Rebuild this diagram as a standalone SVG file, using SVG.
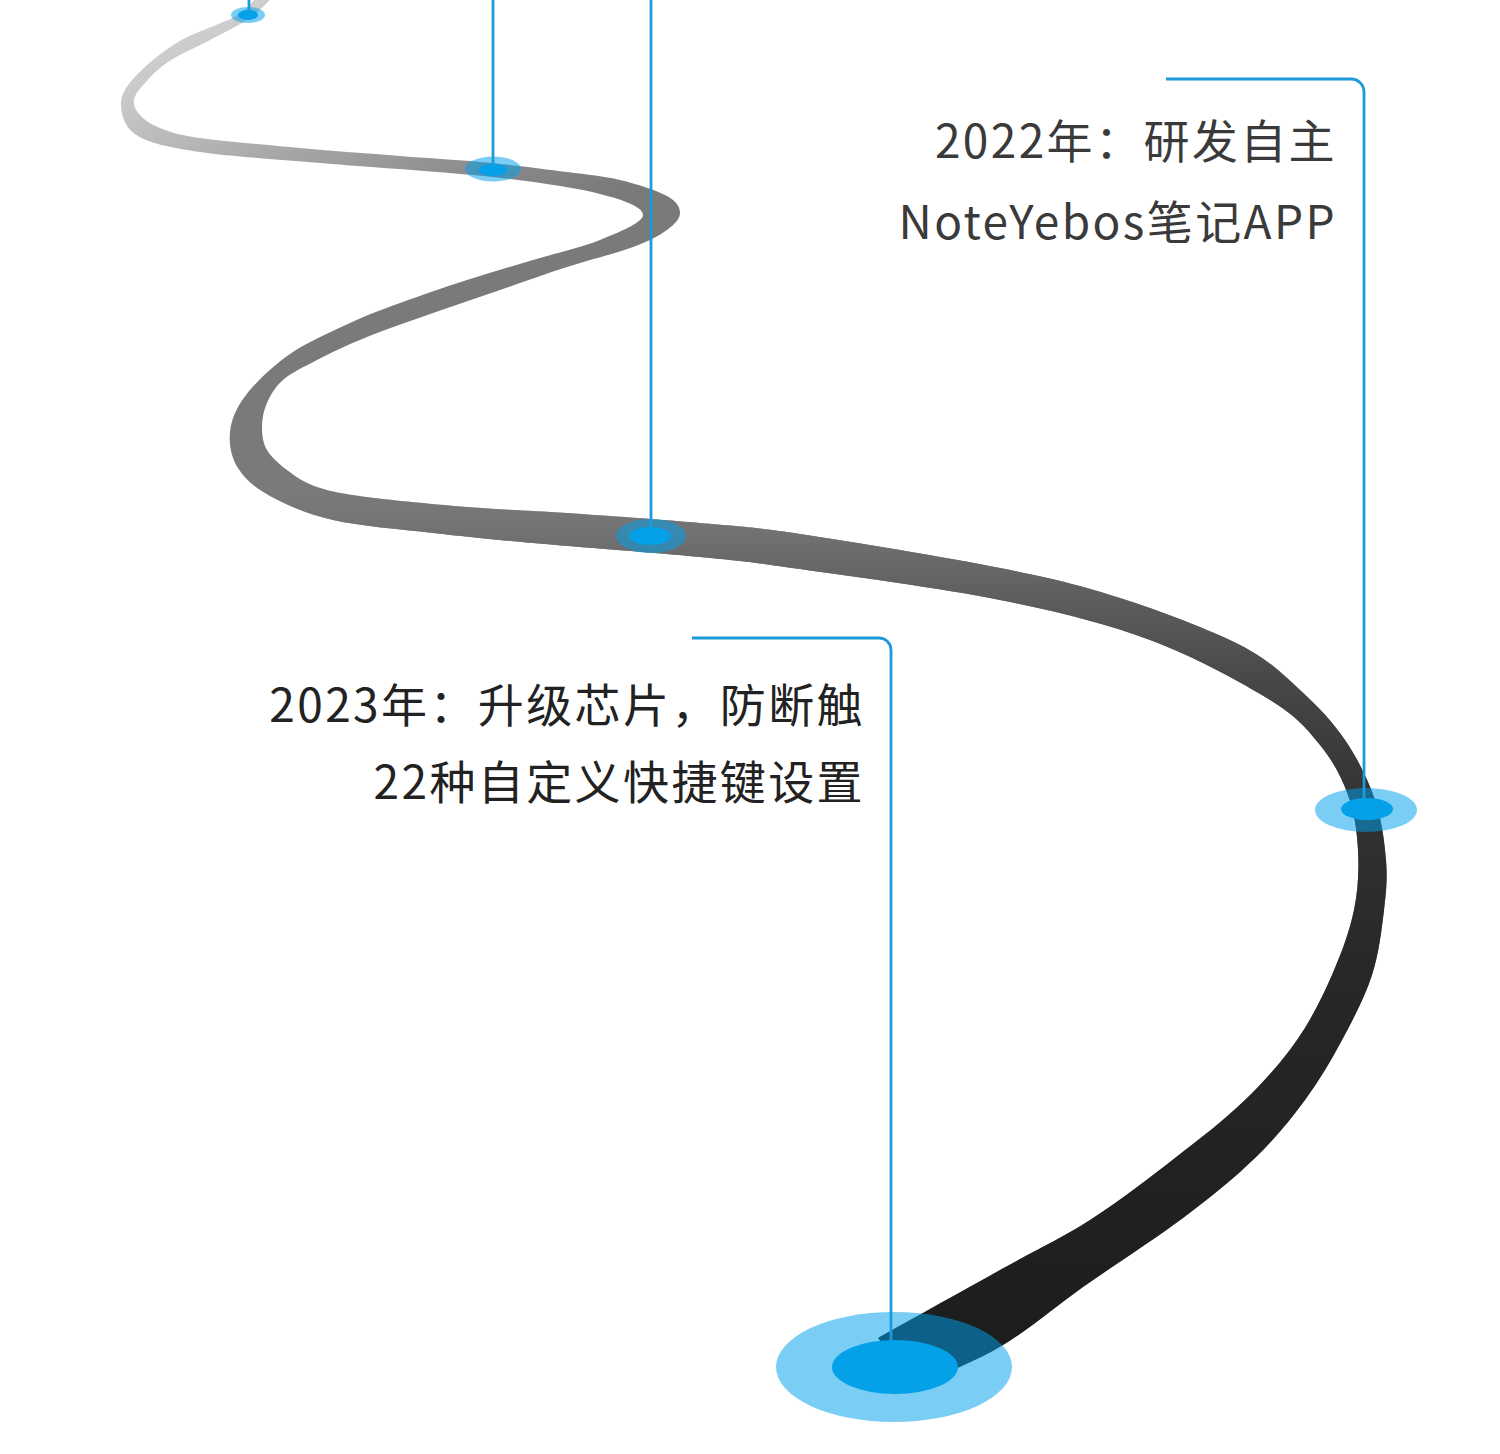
<svg xmlns="http://www.w3.org/2000/svg" xmlns:xlink="http://www.w3.org/1999/xlink" width="1500" height="1454" viewBox="0 0 1500 1454">
<style>
.lead{fill:none;stroke:#1c9ad9;stroke-width:2.8;stroke-linecap:butt}
.outer{fill:#00a0e9;fill-opacity:0.52}
.inner{fill:#04a0e8}
.lbl{font-family:"Noto Sans CJK SC","Noto Sans",sans-serif;font-size:46px;letter-spacing:2.4px;text-anchor:end}
</style>
<defs>
<linearGradient id="g1" gradientUnits="userSpaceOnUse" x1="140" y1="40" x2="296" y2="352">
<stop offset="0" stop-color="#d2d2d2"/>
<stop offset="0.16" stop-color="#c6c6c6"/>
<stop offset="0.33" stop-color="#b6b6b6"/>
<stop offset="0.5" stop-color="#a4a4a4"/>
<stop offset="0.78" stop-color="#8a8a8a"/>
<stop offset="1" stop-color="#7a7a7a"/>
</linearGradient>
<linearGradient id="g2" gradientUnits="userSpaceOnUse" x1="0" y1="0" x2="0" y2="1454">
<stop offset="0" stop-color="#787878" stop-opacity="0"/>
<stop offset="0.33" stop-color="#787878" stop-opacity="0"/>
<stop offset="0.37" stop-color="#707070" stop-opacity="1"/>
<stop offset="0.41" stop-color="#5e5e5e"/>
<stop offset="0.47" stop-color="#474747"/>
<stop offset="0.55" stop-color="#323232"/>
<stop offset="0.68" stop-color="#272727"/>
<stop offset="0.94" stop-color="#1c1c1c"/>
</linearGradient>
<path id="roadShape" d="M258 -4 C250.7 2.7 249.3 8.3 236 16 S195 31.7 178 42 S143.5 67.3 134 78 S120.3 96.3 121 106 S124.8 128.3 138 136 S169.7 147.5 200 152 S271.3 158.8 320 163 S445.3 171.8 492 177 S574.8 187.7 600 194 S643 207.3 643 215 S618.3 232.5 600 240 S555.2 253.3 533 260 S489.2 272.8 467 280 S419.5 295.8 400 303 S368.3 314.5 350 323 S307.3 342 290 354 S256 382 246 395 S231.3 419.8 230 432 S231.3 457.3 238 468 S254.2 487.3 270 496 S305.8 513.8 333 520 S399.7 529.2 433 533 S488.5 539 533 543 S655.5 552.7 700 557 S750 561.8 800 569 S941.7 588.2 1000 600 S1105 623.3 1150 640 S1241.7 682.5 1270 700 S1307 729.2 1320 745 S1341.7 777.5 1348 795 S1357 830.8 1358 850 S1358.3 889.2 1354 910 S1341.5 953.3 1332 975 S1311.5 1019.2 1297 1040 S1265.3 1080.3 1245 1100 S1200.8 1138 1175 1158 S1119.2 1201.3 1090 1220 S1035.3 1250.3 1000 1270 S918.7 1315.3 878 1338 L918 1386 C946.3 1372.3 975.5 1361.5 1003 1345 S1053 1308.2 1083 1287 S1154.3 1239.5 1183 1218 S1234.7 1177.7 1255 1158 S1290.5 1119.7 1305 1100 S1330.8 1060.8 1342 1040 S1365 996.7 1372 975 S1381.7 929.2 1384 910 S1387.5 878.3 1386 860 S1381.8 820 1375 800 S1357.5 758.3 1345 740 S1317.5 705.8 1300 690 S1270 660.3 1240 645 S1160 610.8 1120 598 S1053.3 578.7 1000 568 S850 541.5 800 534 S738.8 526.5 700 523 S605.8 515.7 567 513 S500.3 509.7 467 507 S392 500.3 367 497 S330.3 491.5 317 487 S295.3 476.2 287 470 S271.2 457.2 267 450 S262 434.8 262 427 S263.5 410.8 267 403 S274.7 387.2 283 380 S303 367.2 317 360 S347.7 344.8 367 337 S410.8 320.8 433 313 S477.7 297.7 500 290 S544.8 274.2 567 267 S616.3 253.2 633 247 S659.2 235.7 667 230 S680 218.7 680 213 S677 201.5 667 196 S636.7 184 620 180 S588.3 174.8 567 172 S519.8 165.7 492 163 S432 158.5 400 156 S333.3 151 300 148 S223.3 141.3 200 138 S170 131.8 160 128 S144.3 119.7 140 115 S133.2 105.3 134 100 S139.3 89.3 145 83 S157.2 69.2 168 62 S196.3 47.3 210 40 S239.3 25.3 250 18 S266 3.3 274 -4 Z"/>
</defs>
<rect width="1500" height="1454" fill="#ffffff"/>
<g id="road">
<use xlink:href="#roadShape" fill="url(#g1)"/>
<use xlink:href="#roadShape" fill="url(#g2)"/>
</g>
<g id="marker-halos">
<ellipse class="outer" cx="248" cy="15" rx="17" ry="8"/>
<ellipse class="outer" cx="493" cy="169" rx="28" ry="12.5"/>
<ellipse class="outer" cx="651" cy="536" rx="35" ry="17"/>
<ellipse class="outer" cx="1366" cy="810" rx="51" ry="22"/>
<ellipse class="outer" cx="894" cy="1367" rx="118" ry="55"/>
</g>
<g id="connectors">
<path class="lead" d="M249 0 V15"/>
<path class="lead" d="M493 0 V169"/>
<path class="lead" d="M651 0 V536"/>
<path class="lead" d="M1166 79 H1351 A13 13 0 0 1 1364 92 V809"/>
<path class="lead" d="M692 638 H879 A12 12 0 0 1 891 650 V1367"/>
</g>
<g id="node-1"><ellipse class="inner" cx="248" cy="15" rx="10" ry="5"/></g>
<g id="node-2"><ellipse class="inner" cx="493" cy="170" rx="14" ry="6"/></g>
<g id="node-3"><ellipse class="inner" cx="650" cy="536" rx="21" ry="9"/></g>
<g id="node-4"><ellipse class="inner" cx="1367" cy="809" rx="26" ry="11"/></g>
<g id="node-5"><ellipse class="inner" cx="895" cy="1367" rx="63" ry="27"/></g>
<g id="label-2022">
<text class="lbl" x="1337" y="158" fill="#3a3a3a">2022年：研发自主</text>
<text class="lbl" x="1337" y="239" fill="#3a3a3a">NoteYebos笔记APP</text>
</g>
<g id="label-2023">
<text class="lbl" x="865" y="722" fill="#222222">2023年：升级芯片，防断触</text>
<text class="lbl" x="865" y="799" fill="#222222">22种自定义快捷键设置</text>
</g>
</svg>
